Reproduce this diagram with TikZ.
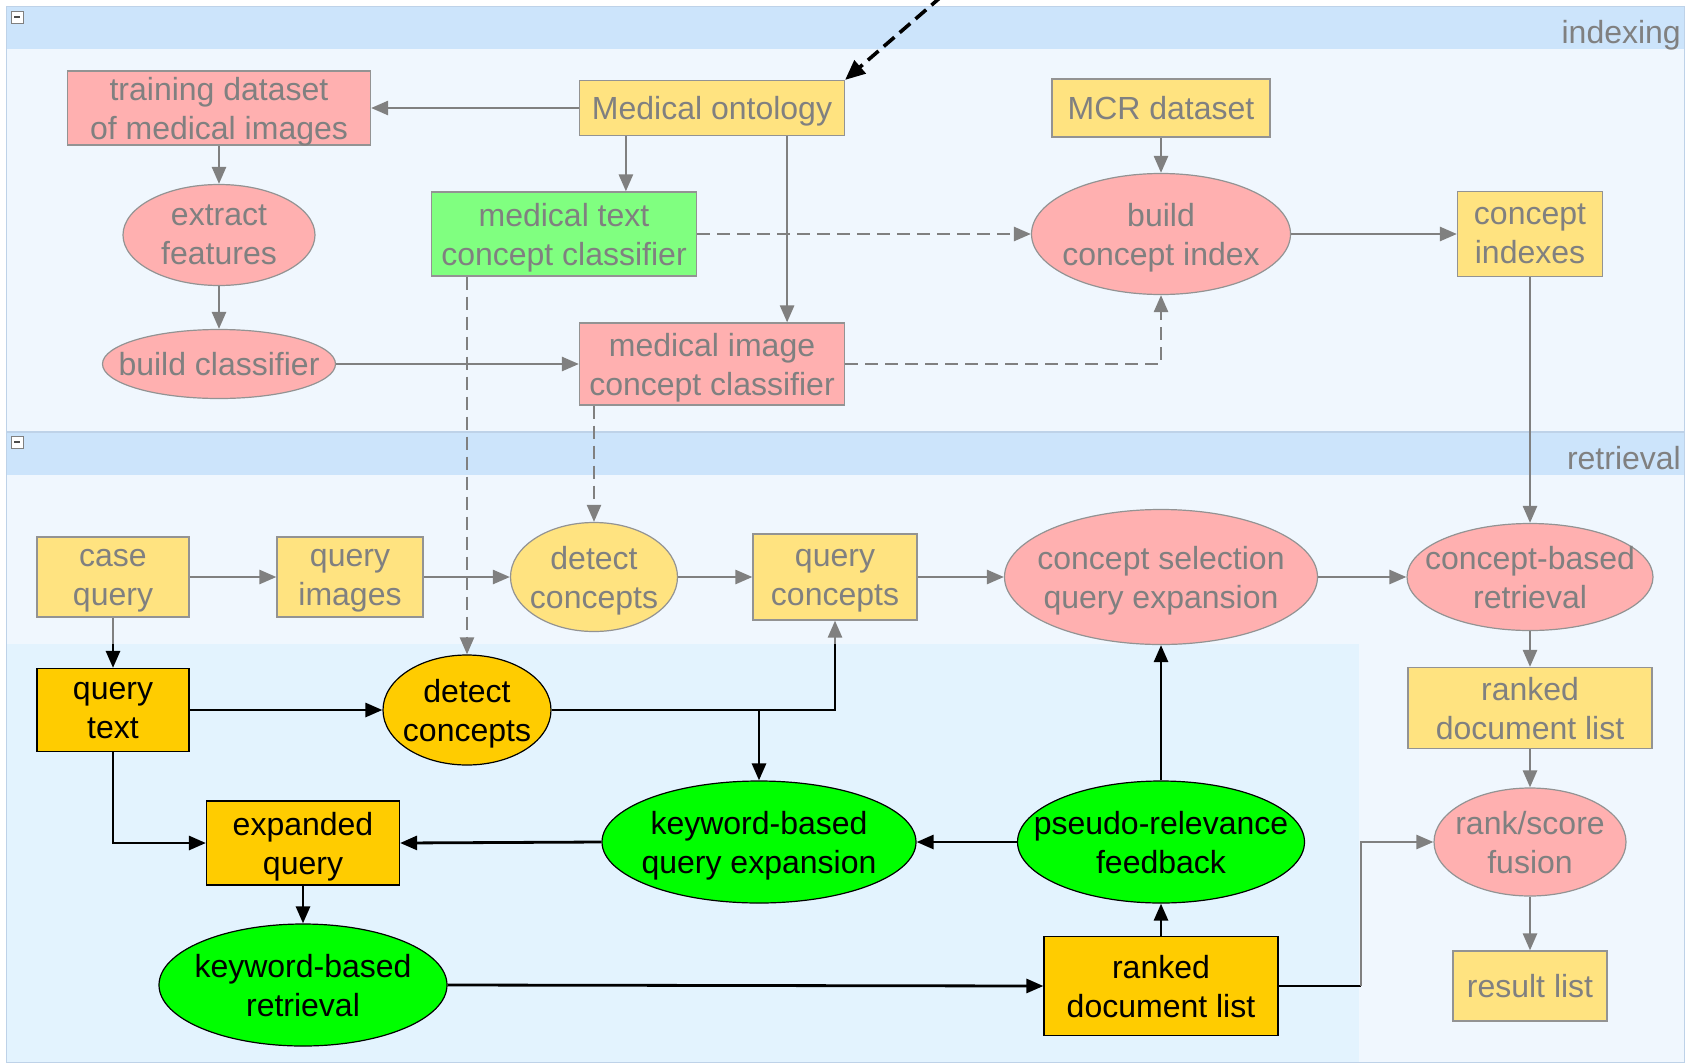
\documentclass[tikz,border=0pt]{standalone}
\usepackage{fontspec}
\setmainfont{Liberation Sans}
\usetikzlibrary{arrows.meta, positioning, shapes.geometric, calc}
\definecolor{hdrblue}{RGB}{204,228,251}
\definecolor{panelbg}{RGB}{240,247,254}
\definecolor{lowbg}{RGB}{227,243,254}
\definecolor{panelline}{RGB}{190,210,232}
\definecolor{paleyel}{RGB}{255,227,128}
\definecolor{palepink}{RGB}{255,176,176}
\definecolor{palegrn}{RGB}{128,255,128}
\definecolor{deeporange}{RGB}{255,204,0}
\definecolor{brightgrn}{RGB}{0,255,0}
\definecolor{linegray}{RGB}{128,128,128}
\tikzset{
  base/.style={align=center, font=\fontsize{32pt}{39pt}\selectfont, inner sep=0pt, text depth=0pt},
  pbox/.style={base, rectangle, draw=linegray!85, line width=1.2pt, text=linegray},
  pell/.style={base, ellipse, draw=linegray!85, line width=1.2pt, text=linegray,
    inner xsep=-45pt, inner ysep=-18pt},
  hbox/.style={base, rectangle, draw=black, line width=1.2pt, text=black, fill=deeporange},
  hell/.style={base, ellipse, draw=black, line width=1.2pt, text=black,
    inner xsep=-45pt, inner ysep=-18pt},
  garrow/.style={-{Triangle[length=17pt,width=14pt]}, line width=2.6pt, draw=linegray},
  gline/.style={line width=2.6pt, draw=linegray},
  gdash/.style={garrow, dash pattern=on 13pt off 7pt},
  barrow/.style={-{Triangle[length=17pt,width=14pt]}, line width=2.8pt, draw=black},
  bline/.style={line width=2.8pt, draw=black},
  extarrow/.style={-{Triangle[length=20pt,width=17pt]}, line width=3.6pt, draw=black,
    dash pattern=on 14pt off 7pt},
  minbtn/.style={draw=linegray, fill=white, minimum size=12pt, inner sep=0pt, line width=0.8pt},
}

\begin{document}
\begin{tikzpicture}[x=1pt, y=-1pt]
\useasboundingbox (0,0) rectangle (1691,1063);

% ---- Panneaux ----
\fill[panelbg] (6.5,6.5) rectangle (1684,431);
\fill[hdrblue] (6.5,6.5) rectangle (1684,48.5);
\draw[panelline, line width=1pt] (6.5,6.5) rectangle (1684,431);
\fill[panelbg] (6.5,432.5) rectangle (1684,1062);
\fill[lowbg] (6.5,644) rectangle (1359,1062);
\fill[hdrblue] (6.5,432.5) rectangle (1684,474.5);
\draw[panelline, line width=1pt] (6.5,432.5) rectangle (1684,1062);

\node[base, text=linegray, anchor=east] (idxlbl) at (1681,32) {indexing};
\node[base, text=linegray, anchor=east] (retlbl) at (1681,458) {retrieval};
\node[minbtn] (idxbtn) at (17,17) {};
\node[minbtn] (retbtn) at (17,442) {};
\draw[black!70, line width=1.6pt] ([xshift=-3pt]idxbtn.center) -- ([xshift=3pt]idxbtn.center);
\draw[black!70, line width=1.6pt] ([xshift=-3pt]retbtn.center) -- ([xshift=3pt]retbtn.center);

% ---- Indexing ----
\node[pbox, fill=palepink, minimum width=303pt, minimum height=74pt] (train) at (219,108) {training dataset\\of medical images};
\node[pbox, fill=paleyel, minimum width=265pt, minimum height=55pt] (onto) at (712,108) {Medical ontology};
\node[pbox, fill=paleyel, minimum width=218pt, minimum height=58pt] (mcr) at (1161,108) {MCR dataset};
\node[pell, fill=palepink, minimum width=192pt, minimum height=101pt] (extract) at (219,235) {extract\\features};
\node[pbox, fill=palegrn, minimum width=265pt, minimum height=84pt] (textcls) at (564,234) {medical text\\concept classifier};
\node[pell, fill=palepink, minimum width=259pt, minimum height=121pt] (bci) at (1161,234) {build\\concept index};
\node[pbox, fill=paleyel, minimum width=145pt, minimum height=85pt] (cidx) at (1530,234) {concept\\indexes};
\node[pell, fill=palepink, minimum width=233pt, minimum height=69pt] (buildcls) at (219,364) {build classifier};
\node[pbox, fill=palepink, minimum width=265pt, minimum height=82pt] (imgcls) at (712,364) {medical image\\concept classifier};

% ---- Retrieval ----
\node[pbox, fill=paleyel, minimum width=152pt, minimum height=80pt] (caseq) at (113,577) {case\\query};
\node[pbox, fill=paleyel, minimum width=146pt, minimum height=80pt] (qimg) at (350,577) {query\\images};
\node[pell, fill=paleyel, minimum width=167pt, minimum height=109pt] (detimg) at (594,577) {detect\\concepts};
\node[pbox, fill=paleyel, minimum width=164pt, minimum height=86pt] (qcon) at (835,577) {query\\concepts};
\node[pell, fill=palepink, minimum width=313pt, minimum height=135pt] (csqe) at (1161,577) {concept selection\\query expansion};
\node[pell, fill=palepink, minimum width=246pt, minimum height=107pt] (cbr) at (1530,577) {concept-based\\retrieval};
\node[pbox, fill=paleyel, minimum width=244pt, minimum height=81pt] (rdly) at (1530,708) {ranked\\document list};
\node[pell, fill=palepink, minimum width=192pt, minimum height=108pt] (fusion) at (1530,842) {rank/score\\fusion};
\node[pbox, fill=paleyel, minimum width=154pt, minimum height=70pt] (result) at (1530,986) {result list};

\node[hbox, minimum width=152pt, minimum height=83pt] (qtext) at (113,710) {query\\text};
\node[hell, fill=deeporange, minimum width=168pt, minimum height=110pt] (dettxt) at (467,710) {detect\\concepts};
\node[hbox, minimum width=193pt, minimum height=84pt] (expq) at (303,843) {expanded\\query};
\node[hell, fill=brightgrn, minimum width=314pt, minimum height=122pt] (kqe) at (759,842) {keyword-based\\query expansion};
\node[hell, fill=brightgrn, minimum width=287pt, minimum height=122pt] (prf) at (1161,842) {pseudo-relevance\\feedback};
\node[hell, fill=brightgrn, minimum width=288pt, minimum height=122pt] (kbr) at (303,985) {keyword-based\\retrieval};
\node[hbox, minimum width=234pt, minimum height=99pt] (rdl) at (1161,986) {ranked\\document list};

\coordinate (ontoin) at (942,-4);
\coordinate (cqgate) at (113,644);
\coordinate (qcgate) at (835,644);
\coordinate (rdlbend) at (1361,986);

% ---- Fleches indexing ----
\draw[garrow] (onto.west) -- (train.east);
\draw[garrow] (train.south) -- (extract.north);
\draw[garrow] (extract.south) -- (buildcls.north);
\draw[garrow] (buildcls.east) -- (imgcls.west);
\draw[garrow] ([xshift=47pt]onto.south west) -- ([xshift=47pt]onto.south west |- textcls.north);
\draw[garrow] ([xshift=-58pt]onto.south east) -- ([xshift=-58pt]onto.south east |- imgcls.north);
\draw[gdash] (textcls.east) -- (bci.west);
\draw[gdash] (imgcls.east) -| (bci.south);
\draw[garrow] (mcr.south) -- (bci.north);
\draw[garrow] (bci.east) -- (cidx.west);
\draw[garrow] (cidx.south) -- (cbr.north);
\draw[gdash, line width=2.2pt] (dettxt.north |- textcls.south) -- (dettxt.north);
\draw[gdash, line width=2.2pt] (detimg.north |- imgcls.south) -- (detimg.north);
\draw[extarrow] (ontoin) -- (onto.north east);

% ---- Fleches retrieval ----
\draw[garrow] (caseq.east) -- (qimg.west);
\draw[garrow] (qimg.east) -- (detimg.west);
\draw[garrow] (detimg.east) -- (qcon.west);
\draw[garrow] (qcon.east) -- (csqe.west);
\draw[garrow] (csqe.east) -- (cbr.west);
\draw[garrow] (cbr.south) -- (rdly.north);
\draw[garrow] (rdly.south) -- (fusion.north);
\draw[garrow] (fusion.south) -- (result.north);
\draw[gline] (caseq.south) -- (cqgate);
\draw[barrow] (cqgate) -- (qtext.north);
\draw[barrow] (qtext.east) -- (dettxt.west);
\draw[bline] (dettxt.east) -- (qcon.south |- dettxt.east) -- (qcgate);
\draw[garrow] (qcgate) -- (qcon.south);
\draw[barrow] (kqe.north |- dettxt.east) -- (kqe.north);
\draw[barrow] (qtext.south) |- (expq.west);
\draw[barrow] (kqe.west) -- (expq.east);
\draw[barrow] (prf.west) -- (kqe.east);
\draw[barrow] (prf.north) -- (csqe.south);
\draw[barrow] (rdl.north) -- (prf.south);
\draw[barrow] (expq.south) -- (kbr.north);
\draw[barrow] (kbr.east) -- (rdl.west);
\draw[bline] (rdl.east) -- (rdlbend);
\draw[garrow] (rdlbend) |- (fusion.west);

\end{tikzpicture}
\end{document}
